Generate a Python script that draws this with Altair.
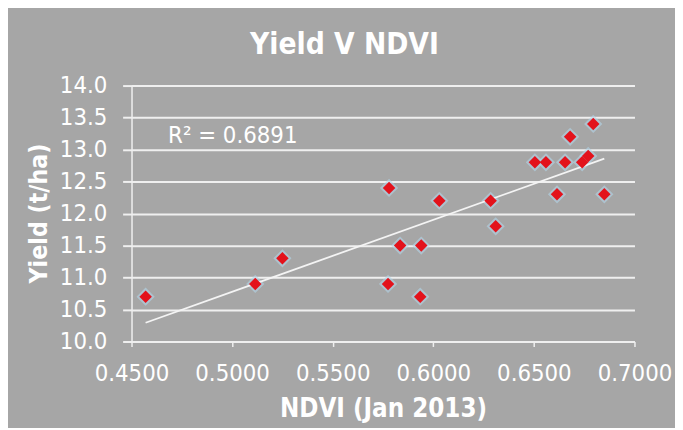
import altair as alt
import pandas as pd

# data
ndvi = [0.4570, 0.5115, 0.5250, 0.5780, 0.5775, 0.5835, 0.5940, 0.5935, 0.6030, 0.6285,
        0.6310, 0.6505, 0.6560, 0.6615, 0.6655, 0.6680, 0.6740, 0.6770, 0.6795, 0.6850]
yield_t = [10.7, 10.9, 11.3, 12.4, 10.9, 11.5, 11.5, 10.7, 12.2, 12.2,
           11.8, 12.8, 12.8, 12.3, 12.8, 13.2, 12.8, 12.9, 13.4, 12.3]
x_ticks = [0.45, 0.50, 0.55, 0.60, 0.65, 0.70]
y_ticks = [10.0, 10.5, 11.0, 11.5, 12.0, 12.5, 13.0, 13.5, 14.0]
r2_text = ["R² = 0.6891"]

df = pd.DataFrame({"ndvi": ndvi, "yield": yield_t})
ann = pd.DataFrame({"label": r2_text})

FONT = "DejaVu Sans Condensed, Liberation Sans Narrow, DejaVu Sans, sans-serif"
BG = "#a6a6a6"
LINE = "#efefef"

x_enc = alt.X(
    "ndvi:Q",
    scale=alt.Scale(domain=[0.45, 0.70], nice=False, zero=False),
    axis=alt.Axis(
        values=x_ticks, format=".4f", grid=False,
        domainColor=LINE, domainWidth=1.5,
        tickColor=LINE, tickSize=5, tickWidth=1.5,
        labelColor="white", labelFont=FONT, labelFontSize=24,
        labelBaseline="middle", labelPadding=27, labelFlush=False, labelOverlap=False,
        title="NDVI (Jan 2013)", titleFont=FONT, titleFontSize=26, titleFontWeight="bold",
        titleColor="white", titleBaseline="top", titleY=55,
    ),
)
y_enc = alt.Y(
    "yield:Q",
    scale=alt.Scale(domain=[10, 14], nice=False, zero=False),
    axis=alt.Axis(
        values=y_ticks, format=".1f", grid=True,
        gridColor=LINE, gridWidth=2, gridOpacity=1,
        domainColor=LINE, domainWidth=1.5,
        tickColor=LINE, tickSize=9, tickWidth=2,
        labelColor="white", labelFont=FONT, labelFontSize=24, labelPadding=16,
        labelOverlap=False, labelFlush=False,
        title="Yield (t/ha)", titleFont=FONT, titleFontSize=25, titleFontWeight="bold",
        titleColor="white", titleX=-94, titleY=129, titleBaseline="middle", titleAlign="center",
    ),
)

base = alt.Chart(df)

halo = base.mark_point(shape="diamond", filled=True, size=340, color="#b3d6ea", opacity=0.6).encode(
    x=x_enc, y=y_enc
)
pts = base.mark_point(shape="diamond", filled=True, size=160, color="#e3121b", opacity=1).encode(
    x=x_enc, y=y_enc
)
trend = base.transform_regression("ndvi", "yield").mark_line(color="#f4f4f4", strokeWidth=1.8).encode(
    x=x_enc, y=y_enc
)
label = alt.Chart(ann).mark_text(
    align="left", baseline="middle", font=FONT, fontSize=24, color="white"
).encode(text="label:N", x=alt.value(37), y=alt.value(51))

chart = alt.layer(halo, trend, pts, label).properties(
    width=509,
    height=259,
    padding={"left": 125, "top": 76, "right": 41, "bottom": 85},
    autosize=alt.AutoSizeParams(type="none"),
    background=BG,
    title=alt.TitleParams(
        "Yield V NDVI", font=FONT, fontSize=30, fontWeight="bold", color="white",
        anchor="middle", dx=-39, offset=14,
    ),
).configure_view(stroke=None)

chart.save("out.html", embed_options={"renderer": "svg", "actions": False})
